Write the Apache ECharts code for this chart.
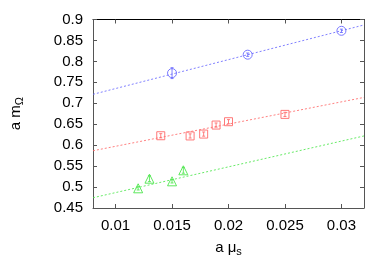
<!DOCTYPE html>
<html><head><meta charset="utf-8">
<script src="https://cdn.jsdelivr.net/npm/echarts@6/dist/echarts.min.js"></script>
<style>html,body{margin:0;padding:0;background:#fff}#c{width:392px;height:274px}</style>
</head><body><div id="c"></div>
<script>
// Data
const blueX = [0.015, 0.0217, 0.030];
const blueY = [0.772, 0.816, 0.873];
const blueErr = [0.013, 0.004, 0.004];
const redX = [0.0140, 0.0166, 0.0178, 0.0189, 0.0200, 0.0250];
const redY = [0.6225, 0.622, 0.6265, 0.648, 0.656, 0.6735];
const redErr = [0.005, 0.005, 0.005, 0.005, 0.005, 0.005];
const greenX = [0.0120, 0.0130, 0.0150, 0.0160];
const greenY = [0.497, 0.520, 0.5137, 0.540];
const greenErr = [0.004, 0.007, 0.004, 0.007];
const fitX = [0.008, 0.032];
const blueFit = [0.7214, 0.887];
const redFit = [0.5867, 0.714];
const greenFit = [0.4745, 0.622];
const xTicks = [0.01, 0.015, 0.02, 0.025, 0.03];

const BLUE = '#6a6aff', RED = '#ff6a6a', GREEN = '#4ce64c';
const font = 'Liberation Sans, Arial, sans-serif';

function pts(xs, ys) { return xs.map((x, i) => [x, ys[i]]); }
function errSeries(xs, ys, es, color) {
  return {
    type: 'custom', z: 3,
    data: xs.map((x, i) => [x, ys[i], es[i]]),
    renderItem: function (params, api) {
      const x = api.value(0), y = api.value(1), e = api.value(2);
      const p1 = api.coord([x, y - e]), p2 = api.coord([x, y + e]);
      const w = 1.5;
      const st = { stroke: color, lineWidth: 1, opacity: 0.85 };
      return {
        type: 'group',
        children: [
          { type: 'line', shape: { x1: p1[0], y1: p1[1], x2: p2[0], y2: p2[1] }, style: st },
          { type: 'line', shape: { x1: p1[0] - w, y1: p1[1], x2: p1[0] + w, y2: p1[1] }, style: st },
          { type: 'line', shape: { x1: p2[0] - w, y1: p2[1], x2: p2[0] + w, y2: p2[1] }, style: st }
        ]
      };
    }
  };
}
function fitSeries(ys, color) {
  return {
    type: 'line', data: pts(fitX, ys), symbol: 'none', silent: true, z: 2,
    lineStyle: { color: color, width: 1, type: [2, 2], opacity: 0.85 }
  };
}
function markSeries(xs, ys, color, symbol, size) {
  return {
    type: 'scatter', data: pts(xs, ys), symbol: symbol, symbolSize: size, z: 4,
    itemStyle: { color: 'rgba(255,255,255,0)', borderColor: color, borderWidth: 1, opacity: 0.9 }
  };
}

const axisLine = { show: true, lineStyle: { color: '#555', width: 1 } };
const option = {
  animation: false,
  backgroundColor: '#fff',
  grid: { left: 93, right: 28, top: 19.5, bottom: 66 },
  xAxis: [{
    type: 'value', min: 0.008, max: 0.032,
    axisLine: axisLine,
    axisTick: { show: true, inside: true, length: 4, lineStyle: { color: '#555' }, customValues: xTicks },
    axisLabel: { customValues: xTicks, color: '#000', fontFamily: font, fontSize: 15, margin: 10,
      formatter: v => String(+v.toFixed(3)) },
    splitLine: { show: false },
    name: 'a {s|μ}{sub|s}', nameLocation: 'middle', nameGap: 30,
    nameTextStyle: { color: '#000', fontFamily: font, fontSize: 15,
      rich: { s: { fontFamily: font, fontSize: 15, color: '#000' },
              sub: { fontFamily: font, fontSize: 11, color: '#000', padding: [8, 0, 0, 0] } } }
  }, {
    type: 'value', min: 0.008, max: 0.032, position: 'top',
    axisLine: { show: true, lineStyle: { color: '#000', width: 1 } },
    axisTick: { show: true, inside: true, length: 4, lineStyle: { color: '#555' }, customValues: xTicks },
    axisLabel: { show: false, customValues: xTicks }, splitLine: { show: false }
  }],
  yAxis: [{
    type: 'value', min: 0.45, max: 0.9, interval: 0.05,
    axisLine: axisLine,
    axisTick: { show: true, inside: true, length: 4, lineStyle: { color: '#555' } },
    axisLabel: { color: '#000', fontFamily: font, fontSize: 15, margin: 10,
      formatter: v => String(+v.toFixed(2)) },
    splitLine: { show: false },
    name: 'a m{sub|Ω}', nameLocation: 'middle', nameGap: 68, nameRotate: 90,
    nameTextStyle: { color: '#000', fontFamily: font, fontSize: 15,
      rich: { sub: { fontFamily: font, fontSize: 11, color: '#000', padding: [8, 0, 0, 0] } } }
  }, {
    type: 'value', min: 0.45, max: 0.9, interval: 0.05, position: 'right',
    axisLine: axisLine,
    axisTick: { show: true, inside: true, length: 4, lineStyle: { color: '#555' } },
    axisLabel: { show: false }, splitLine: { show: false }
  }],
  series: [
    fitSeries(blueFit, BLUE), fitSeries(redFit, RED), fitSeries(greenFit, GREEN),
    errSeries(blueX, blueY, blueErr, BLUE), errSeries(redX, redY, redErr, RED), errSeries(greenX, greenY, greenErr, GREEN),
    markSeries(blueX, blueY, BLUE, 'circle', 9),
    markSeries(redX, redY, RED, 'rect', 8),
    markSeries(greenX, greenY, GREEN, 'triangle', 9)
  ]
};
const chart = echarts.init(document.getElementById('c'), null, { renderer: 'canvas' });
chart.setOption(option);
</script></body></html>
